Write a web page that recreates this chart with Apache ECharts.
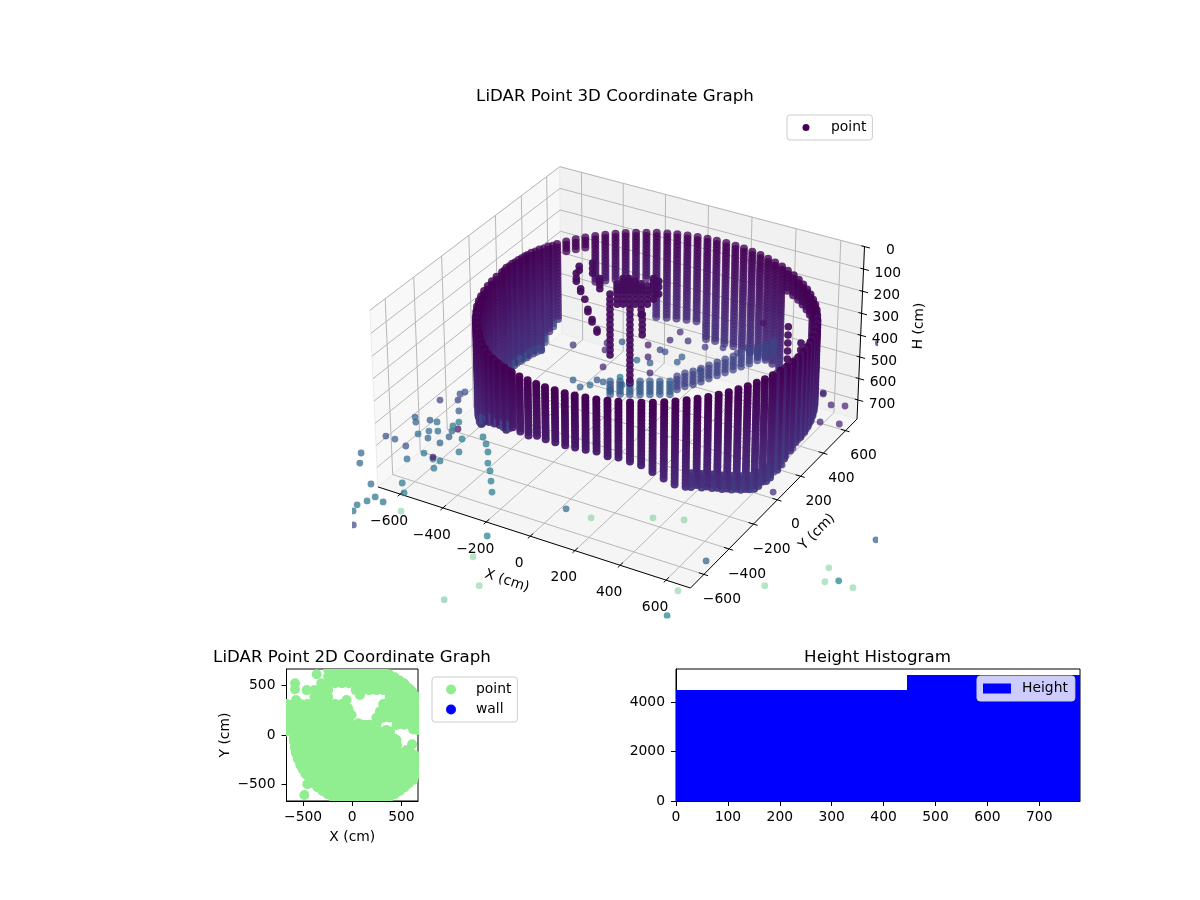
<!DOCTYPE html>
<html><head><meta charset="utf-8"><style>html,body{margin:0;background:#fff}#c{width:1200px;height:900px}</style>
<script src="https://cdn.jsdelivr.net/npm/echarts@6/dist/echarts.min.js"></script></head><body><div id="c"></div>
<script>
// ---------- values ----------
const xTicks3D=[-600,-400,-200,0,200,400,600];
const yTicks3D=[-600,-400,-200,0,200,400,600];
const hTicks3D=[0,100,200,300,400,500,600,700];
const xLim=[-705,705], yLim=[-705,705], hLim=[0,790];
const wallX=[780,779,775,768,759,747,733,716,696,675,651,625,597,567,535,502,467,430,393,353,314,273,231,189,148,105,62,21,-21,-63,-104,-143,-183,-220,-257,-292,-325,-357,-387,-415,-441,-465,-486,-506,-523,-537,-544,-550,-555,-557,-553,-552,-548,-541,-532,-520,-506,-489,-469,-448,-424,-398,-370,-345,-317,-287,-257,-220,-183,-143,-104,-63,-21,21,62,105,148,189,231,273,314,353,393,430,467,502,535,567,597,625,651,675,696,716,733,747,759,768,775,779];
const wallY=[-8,35,76,118,160,201,240,280,317,354,389,422,454,484,512,538,562,583,603,620,634,646,655,662,666,667,666,662,655,646,634,620,603,583,562,538,512,484,454,422,389,354,317,280,240,201,163,123,82,42,2,-41,-82,-124,-166,-207,-246,-286,-323,-360,-395,-428,-460,-493,-523,-551,-578,-599,-619,-636,-650,-662,-671,-678,-682,-683,-682,-678,-671,-662,-650,-636,-619,-599,-578,-554,-528,-500,-470,-438,-405,-370,-333,-296,-256,-217,-176,-134,-92,-51];
const wallBottom=[510,510,510,510,510,510,510,510,510,450,380,300,225,225,225,225,225,225,590,590,590,590,590,590,590,590,590,590,520,520,520,520,520,335,335,335,335,335,335,170,170,170,470,520,590,590,590,590,590,590,590,590,590,590,590,590,590,590,590,570,555,545,530,500,470,445,425,410,400,395,375,370,365,360,355,355,355,355,355,360,365,370,390,405,430,460,485,500,510,520,535,550,565,580,590,585,580,560,540,520];
const scanLevels=[125,140,155,170,185,200,215,230,245,260,275,290,305,320,335,350,365,380,395,410,425,440,455,470,485,500,515,530,545,560,575,590];
const fillX=[-496,-515,-530,-543,-548,-553,-556,-555,-458,-436,-411,-384,-360,-333,-308,-275,-238,-201,-163,-123,764,772,772,780,780,777,772,764,753,740,725,706];
const fillY=[298,260,220,180,143,102,62,22,-341,-377,-411,-444,-478,-509,-541,-566,-588,-609,-627,-643,-155,-113,-72,-30,14,56,97,139,180,220,260,298];
const fillBottom=[500,560,590,590,590,590,590,590,580,562,550,537,515,485,457,435,417,405,397,385,570,550,530,515,510,510,510,510,510,510,510,510];
const bandX=[582,611,638,663,685,705,724,740,753];
const bandY=[-485,-454,-421,-387,-351,-314,-276,-236,-196];
const bandBottom=[505,515,527,542,557,572,585,587,582];
const bandOffsets=[0,-15,-30,-45,-60];
const strayX=[-627,-565,-557,-540,-563,-715,-713,-664,-640,-819,-788,-707,-669,-638,-673,-632,-751,-749,-689,-658,-658,-634,-656,-600,-589,-585,-564,-555,-567,-568,-482,-472,-466,-467,-460,-458,-455,-908,-914,-879,-769,-764,-839,-866,-895,-931,-946,-948,-777,-476,-528,-509,-636,-196,-108,110,220,300,201,163,511,737,725,774,826,900,531,560,754,771,723,694,687,876,165,199,226,285,346,131,148,206,190,97,269,97,90,90,395,428,481,-50,-57,1,52,-6,1,694,-166,-314,-297,-273,-349,-85,-64,-167,-143,-109,-64,-40];
const strayY=[-362,-326,-322,-312,-325,-413,-412,-383,-369,-473,-455,-408,-386,-368,-389,-365,-434,-432,-398,-380,-380,-366,-379,-346,-340,-338,-326,-320,-327,-328,-278,-272,-269,-270,-266,-264,-263,-524,-528,-507,-444,-441,-484,-500,-517,-537,-546,-547,-449,-275,-305,-294,-367,-113,-62,64,127,173,116,94,295,426,419,447,477,520,307,323,435,445,417,401,397,506,95,115,131,164,200,76,86,119,110,56,155,56,52,52,228,247,278,-29,-33,1,30,-3,1,401,-96,-181,-171,-158,-201,-49,-37,-97,-83,-63,-37,-23];
const strayH=[548,548,520,511,598,626,649,640,649,714,728,704,691,691,723,746,760,821,793,812,821,830,864,718,691,667,649,728,788,681,718,751,788,840,877,925,977,793,840,939,934,981,1024,1000,1019,1038,1067,1134,1067,1187,1288,1429,1498,1057,1100,1100,1110,1308,1454,1577,1429,1342,1410,1405,1439,1206,977,849,658,575,570,520,649,289,276,240,280,307,311,320,329,352,375,379,411,424,298,352,334,311,200,289,320,284,366,443,479,515,298,329,316,320,357,456,397,456,488,479,465,502];
const strayC=[.2,.2,.25,.25,.3,.3,.3,.3,.35,.25,.3,.35,.35,.35,.3,.3,.25,.35,.4,.08,.35,.4,.4,.3,.35,.4,.4,.4,.4,.05,.4,.4,.4,.42,.42,.42,.42,.33,.33,.35,.4,.42,.38,.38,.38,.38,.38,.22,.7,.45,.7,.7,.6,.35,.7,.7,.7,.3,.7,.45,.7,.7,.7,.45,.7,.3,.12,.12,.1,.1,.1,.1,.1,.08,.12,.12,.14,.18,.18,.2,.25,.3,.3,.3,.35,.08,.08,.08,.2,.2,.05,.1,.1,.3,.35,.4,.4,.1,.15,.2,.2,.2,.25,.25,.1,.3,.3,.35,.3,.3];
const ridgeX=[190,217,245,272,299,327,354,382,409,437,464,492,519,-40,-6,28,63,97,131,166];
const ridgeY=[110,125,141,157,173,189,205,220,236,252,268,284,300,-23,-3,16,36,56,76,96];
const ridgeH=[470,456,447,434,420,406,393,379,366,352,338,325,311,492,492,492,492,492,492,492];
const ridgeC=[.2,.2,.2,.2,.2,.2,.2,.2,.2,.2,.2,.2,.2,.28,.28,.28,.28,.28,.28,.28];
const ridgeSpread=[-30,-15,0,15,30];
const strandX=[-153,-139,-125,-115,-101,-84,-74,-16,4,25,46,66,87,107,125,-40,28,70,567,612,-98,-143];
const strandY=[-89,-80,-72,-66,-58,-49,-43,-9,3,14,26,38,50,62,72,-23,16,40,327,353,-57,-83];
const strandH=[[-20,3,15],[48,60],[94],[139,150],[184,195],[230,240],[3,15,30,48],[26,40,55,71,94,116],[3,15,26,40,55,71,94,116],[3,15,26,40,55,71,94,116],[15,26,40,55,71,94,116],[26,40,55,71,94,116,140,162],[35,55,71,94,116],[3,20,35,48,70,94],[15,40,71],[71,94,116,139,162,184,207,230,252,275,298,320,343],[139,162,184,207,230,252,275,298,320,343,366,388,411,434,456,470],[162,184,207,230,252],[216,253,289,325,361],[289,320],[-65,-42,-20],[-51,-33]];
const blobRowY=[-665,-595,-525,-455,-385,-315,-245,-175,-105,-35,35,105,175,245,315,385,455,525,595,665];
const blobRowX=[
[-105,-35,35,105,175,245,275],
[-245,-175,-105,-35,35,105,175,245,315,385,435],
[-355,-315,-245,-175,-105,-35,35,105,175,245,315,385,455,525],
[-425,-385,-315,-245,-175,-105,-35,35,105,175,245,315,385,455,525,595,620],
[-480,-455,-385,-315,-245,-175,-105,-35,35,105,175,245,315,385,455,525,595,665],
[-520,-455,-385,-315,-245,-175,-105,-35,35,105,175,245,315,385,455,525,595,665],
[-550,-525,-455,-385,-315,-245,-175,-105,-35,35,105,175,245,315,385,455,525,595,665],
[-572,-525,-455,-385,-315,-245,-175,-105,-35,35,105,175,245,315,385,455,525,595],
[-565,-525,-455,-385,-315,-245,-175,-105,-35,35,105,175,245,315,385,455],
[-595,-525,-455,-385,-315,-245,-175,-105,-35,35,105,175,245,315,385,430],
[-665,-595,-525,-455,-385,-315,-245,-175,-105,-35,35,105,175,245,315,385],
[-665,-595,-525,-455,-385,-315,-245,-175,-105,-35,35,105,175,245,525,595,665],
[-665,-595,-525,-455,-385,-315,-245,-175,-105,-35,245,315,385,455,525,595,665],
[-665,-595,-525,-455,-385,-315,-245,-175,-105,-35,315,385,455,525,595,665],
[-665,-595,-525,-455,-385,-315,-245,-175,-105,315,385,455,525,595,665],
[-385,-315,-245,385,455,525,595,665],
[-464,-385,-315,-245,35,105,175,245,315,385,455,525,595],
[-315,-245,-175,-105,-35,35,105,175,245,315,385,455,525],
[-245,-175,-105,-35,35,105,175,245,315,385],
[-245,-175,-105,-35,35,105,175,245,315]];
const blobExtraX=[-582,-582,-572,-362,78,-58,620,660,609,-457,-487,
 -591,-584,-571,-553,-530,-502,-470,-434,-394,-350,-302,-252,-199,-144,-87,
 267,324,379,432,482,530,574,614,650,682,
 574,614,650,530,482,432,379,324,267,
 382,349,281,264,146,61,-41,-7,
 450,399,349,450,552,636];
const blobExtraY=[525,464,355,616,406,355,57,50,-95,-498,-609,
 -67,-126,-184,-241,-296,-349,-399,-447,-491,-531,-567,-599,-627,-650,-668,
 -668,-650,-627,-599,-567,-531,-491,-447,-399,-349,
 477,433,385,517,553,585,613,636,654,
 406,321,237,152,101,118,271,203,
 101,186,51,-51,-152,-203];
const wallPoints2D=[];
const histBins=[[0,445,4485],[445,778.5,5090]];
const ticks2D=[-500,0,500], histXTicks=[0,100,200,300,400,500,600,700], histYTicks=[0,2000,4000];

// ---------- mplot3d-style view ----------
const A=.5714,C=.32,N=[.433,-.75,.5],U=[.866,.5,0],V=[-.25,.433,.866];
function view(x,y,h){
  const p=[(x-(xLim[0]+xLim[1])/2)/(xLim[1]-xLim[0])*2*A,(y-(yLim[0]+yLim[1])/2)/(yLim[1]-yLim[0])*2*A,((hLim[0]+hLim[1])/2-h)/(hLim[1]-hLim[0])*2*C];
  const dot=(a,b)=>a[0]*b[0]+a[1]*b[1]+a[2]*b[2];
  const d=10-dot(p,N);
  return {sx:621.75+3117*dot(p,U)/d, sy:366.5-3148*dot(p,V)/d, d};
}
const pt=(x,y,h,ox,oy)=>{const v=view(x,y,h);return [v.sx+(ox||0),v.sy+(oy||0)];};
const stops=[[68,1,84],[72,40,120],[62,74,137],[49,104,142],[38,130,142],[31,158,137],[53,183,121],[109,205,89],[180,222,44],[253,231,37]];
function viridis(t){t=Math.max(0,Math.min(.999,t))*9;const i=Math.floor(t),f=t-i,a=stops[i],b=stops[i+1];
  return 'rgb('+[0,1,2].map(j=>Math.round(a[j]+(b[j]-a[j])*f)).join(',')+')';}
const wallAlpha=d=>Math.max(.72,Math.min(.98,.98-.26*(d-9.4)/1.1));
const wallC=h=>.15*(h-125)/465;
let pts=[];
function add(x,y,h,c,a,r){const v=view(x,y,h);pts.push({d:v.d,r:r||3.4,f:viridis(c),o:a==null?wallAlpha(v.d):a,v:[v.sx,v.sy]});}
wallX.forEach((x,k)=>scanLevels.forEach(h=>{if(h<=wallBottom[k])add(x,wallY[k],h,wallC(h),null,4);}));
fillX.forEach((x,k)=>scanLevels.forEach(h=>{if(h<=fillBottom[k])add(x,fillY[k],h,wallC(h)+(k>=20?.06:(fillBottom[k]-h<40?.12:.02)),k>=20?.75:null,3.6);}));
bandX.forEach((x,k)=>bandOffsets.forEach(o=>add(x,bandY[k],bandBottom[k]+o,wallC(bandBottom[k]+o)+.03,null,4)));
strayX.forEach((x,i)=>add(x,strayY[i],strayH[i],strayC[i],strayC[i]>=.6?.4:.72));
ridgeX.forEach((x,i)=>ridgeSpread.forEach(o=>add(x,ridgeY[i],ridgeH[i]+o,ridgeC[i],.72,3.8)));
strandX.forEach((x,i)=>strandH[i].forEach(h=>add(x,strandY[i],h,.03,.93,3.8)));
pts.sort((a,b)=>b.d-a.d);

const [x0,x1]=xLim,[y0,y1]=yLim,[h0,h1]=hLim;
const panes=[
 {c:'#f8f8f8',p:[[x0,y0,h1],[x0,y1,h1],[x0,y1,h0],[x0,y0,h0]]},
 {c:'#f1f1f1',p:[[x0,y1,h1],[x1,y1,h1],[x1,y1,h0],[x0,y1,h0]]},
 {c:'#f5f5f5',p:[[x0,y0,h1],[x1,y0,h1],[x1,y1,h1],[x0,y1,h1]]}];
const seg=(a,b)=>[...pt(...a),...pt(...b)];
let gridSegs=[],axisSegs=[];
xTicks3D.forEach(t=>{gridSegs.push(seg([t,y0,h1],[t,y1,h1]),seg([t,y1,h1],[t,y1,h0]));axisSegs.push(seg([t,y0+22,h1],[t,y0-18,h1]));});
yTicks3D.forEach(t=>{gridSegs.push(seg([x1,t,h1],[x0,t,h1]),seg([x0,t,h1],[x0,t,h0]));axisSegs.push(seg([x1-22,t,h1],[x1+18,t,h1]));});
hTicks3D.forEach(t=>{gridSegs.push(seg([x0,y0,t],[x0,y1,t]),seg([x0,y1,t],[x1,y1,t]));axisSegs.push(seg([x1-14,y1,t],[x1+24,y1,t]));});
axisSegs.push(seg([x0,y0,h1],[x1,y0,h1]),seg([x1,y0,h1],[x1,y1,h1]),seg([x1,y1,h1],[x1,y1,h0]));
const fmt=v=>String(v).replace('-','\u2212');
let labels=[];
xTicks3D.forEach(t=>labels.push({p:pt(t,y0,h1,-11,27),t:fmt(t),a:'center'}));
yTicks3D.forEach(t=>labels.push({p:pt(x1,t,h1,18,25),t:fmt(t),a:'center'}));
hTicks3D.forEach(t=>labels.push({p:pt(x1,y1,t,t===0?26:11,4),t:fmt(t),a:t===0?'center':'left'}));
labels.push({p:[507,581],t:'X (cm)',a:'center',r:-18},{p:[817,532],t:'Y (cm)',a:'center',r:45},{p:[919,326],t:'H (cm)',a:'center',r:88});

const segSeries=(segs,color,w,z)=>({type:'custom',xAxisIndex:0,yAxisIndex:0,silent:true,z,data:segs,
 renderItem:(p,api)=>{const a=api.coord([api.value(0),api.value(1)]),b=api.coord([api.value(2),api.value(3)]);
  return {type:'line',shape:{x1:a[0],y1:a[1],x2:b[0],y2:b[1]},style:{stroke:color,lineWidth:w,fill:null}};}});
const blob=[];
blobRowY.forEach((y,i)=>blobRowX[i].forEach(x=>blob.push([x,y])));
blobExtraX.forEach((x,i)=>blob.push([x,blobExtraY[i]]));
const F='DejaVu Sans',FS=13.89;
const tickFmt=v=>fmt(v);
const mkAxis=(o,margin)=>Object.assign({type:'value',scale:true,splitLine:{show:false},
 axisLine:{show:true,onZero:false,lineStyle:{color:'#000',width:1}},
 axisTick:{show:true,length:5,lineStyle:{color:'#000',width:1},customValues:o.ticks},
 axisLabel:{color:'#000',fontFamily:F,fontSize:FS,margin,customValues:o.ticks,formatter:tickFmt},
 nameTextStyle:{color:'#000',fontFamily:F,fontSize:FS}},o.opt);
const legendBase={orient:'vertical',selectedMode:false,backgroundColor:'rgba(255,255,255,0.8)',borderColor:'#ccc',borderWidth:1,borderRadius:3,
 textStyle:{color:'#000',fontFamily:F,fontSize:FS}};
const titleStyle={fontFamily:F,fontSize:16.67,fontWeight:'normal',color:'#000'};
const option={animation:false,backgroundColor:'#fff',textStyle:{fontFamily:F},
 title:[{text:'LiDAR Point 3D Coordinate Graph',left:610,top:83,textAlign:'center',textStyle:titleStyle},
  {text:'LiDAR Point 2D Coordinate Graph',left:347,top:644,textAlign:'center',textStyle:titleStyle},
  {text:'Height Histogram',left:872.5,top:644,textAlign:'center',textStyle:titleStyle}],
 grid:[{left:352,top:100,width:526,height:518.6,show:false},
  {left:286.5,top:669,width:131.5,height:132,show:true,borderColor:'#000',borderWidth:1,backgroundColor:'#fff'},
  {left:676,top:669,width:404,height:132,show:true,borderColor:'#000',borderWidth:1,backgroundColor:'#fff'}],
 xAxis:[{type:'value',gridIndex:0,min:352,max:878,show:false},
  mkAxis({ticks:ticks2D,opt:{gridIndex:1,min:-669,max:669,name:'X (cm)',nameLocation:'middle',nameGap:29}},9),
  mkAxis({ticks:histXTicks,opt:{gridIndex:2,min:0,max:778.5}},9)],
 yAxis:[{type:'value',gridIndex:0,min:100,max:618.6,inverse:true,show:false},
  mkAxis({ticks:ticks2D,opt:{gridIndex:1,min:-669,max:669,name:'Y (cm)',nameLocation:'middle',nameGap:54,nameRotate:90}},11),
  mkAxis({ticks:histYTicks,opt:{gridIndex:2,min:0,max:5333}},11)],
 legend:[
  Object.assign({},legendBase,{left:787,top:115,padding:[5.5,6,5.5,15.5],itemWidth:7,itemHeight:7,textStyle:{color:'#000',fontFamily:F,fontSize:FS,padding:[0,0,0,16.5]},data:[{name:'point',icon:'circle',itemStyle:{color:'#440154',opacity:1}}]}),
  Object.assign({},legendBase,{left:432,top:677,padding:[5.5,6,5.5,14],itemWidth:10,itemHeight:10,itemGap:6,textStyle:{color:'#000',fontFamily:F,fontSize:FS,padding:[0,0,0,15]},data:[{name:'point',icon:'circle',itemStyle:{color:'#90ee90',opacity:1}},{name:'wall',icon:'circle',itemStyle:{color:'#0000ff',opacity:1}}]}),
  Object.assign({},legendBase,{left:977,top:676,padding:[5.5,7,5.5,6],itemWidth:28,itemHeight:10,data:[{name:'Height',icon:'rect',itemStyle:{color:'#0000ff'}}],textStyle:{color:'#000',fontFamily:F,fontSize:FS,padding:[0,0,0,6]}})],
 series:[
  {type:'custom',xAxisIndex:0,yAxisIndex:0,silent:true,z:1,data:panes.map(p=>p.p.flatMap(q=>pt(...q))),
   renderItem:(p,api)=>{const pp=[0,2,4,6].map(i=>api.coord([api.value(i),api.value(i+1)]));
    return {type:'polygon',shape:{points:pp},style:{fill:panes[p.dataIndex].c,stroke:'#ececec',lineWidth:1}};}},
  segSeries(gridSegs,'#b8b8b8',1,1.1),
  segSeries(axisSegs,'#000',1,1.2),
  {type:'custom',xAxisIndex:0,yAxisIndex:0,silent:true,z:2,data:labels.map(l=>l.p),
   renderItem:(p,api)=>{const l=labels[p.dataIndex],c=api.coord([api.value(0),api.value(1)]);
    return {type:'text',x:c[0],y:c[1],rotation:(l.r||0)*Math.PI/180,style:{text:l.t,x:0,y:0,align:l.a,verticalAlign:'middle',fill:'#000',font:FS+'px "DejaVu Sans"'}};}},
  {type:'custom',name:'point',xAxisIndex:0,yAxisIndex:0,z:3,progressive:0,silent:true,clip:true,data:pts.map(q=>q.v),
   renderItem:(p,api)=>{const q=pts[p.dataIndex],c=api.coord([api.value(0),api.value(1)]);
    return {type:'circle',shape:{cx:c[0],cy:c[1],r:q.r},style:{fill:q.f,opacity:q.o}};}},
  {type:'custom',name:'point',xAxisIndex:1,yAxisIndex:1,z:3,progressive:0,silent:true,clip:true,data:blob,
   renderItem:(p,api)=>{const c=api.coord([api.value(0),api.value(1)]);
    return {type:'circle',shape:{cx:c[0],cy:c[1],r:5},style:{fill:'#90ee90'}};}},
  {type:'scatter',name:'wall',xAxisIndex:1,yAxisIndex:1,symbol:'circle',symbolSize:10,itemStyle:{color:'#0000ff'},data:wallPoints2D},
  {type:'custom',name:'Height',xAxisIndex:2,yAxisIndex:2,silent:true,z:2,clip:true,data:histBins,
   renderItem:(p,api)=>{const a=api.coord([api.value(0),api.value(2)]),b=api.coord([api.value(1),0]);
    const l=Math.round(a[0]),r=Math.round(b[0]);
    return {type:'rect',shape:{x:l,y:a[1],width:r-l,height:b[1]-a[1]},style:{fill:'#0000ff'}};}}
 ]};
echarts.init(document.getElementById('c')).setOption(option);
</script></body></html>
